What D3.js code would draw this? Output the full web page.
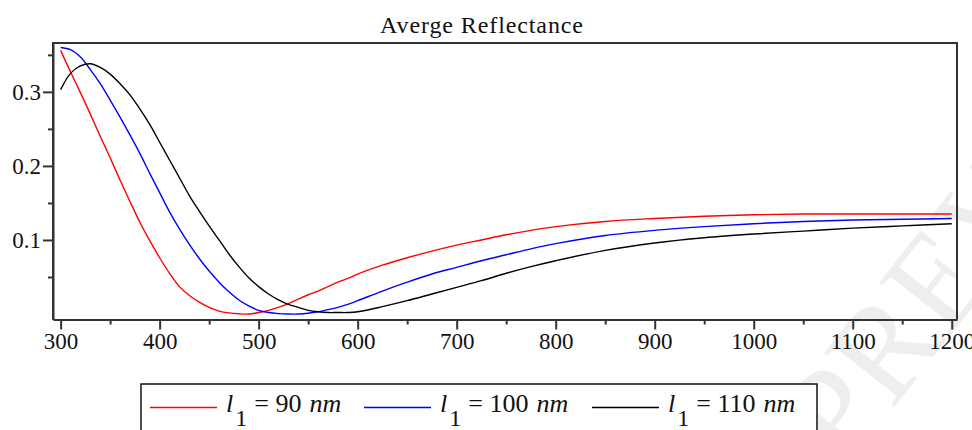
<!DOCTYPE html>
<html>
<head>
<meta charset="utf-8">
<script src="https://cdn.jsdelivr.net/npm/d3@7"></script>
<style>
    body { margin: 0; background: #fff; }
    svg { display: block; }
    text, tspan { font-family: "Liberation Serif", "Times New Roman", serif !important; fill: #111; }
</style>
</head>
<body>
<svg id="plot" width="972" height="430"></svg>
<script>
const wavelengths = [300, 310, 320, 330, 340, 350, 360, 370, 380, 390, 400, 410, 420, 430, 440,
    450, 460, 470, 480, 490, 500, 510, 520, 530, 540, 550, 560, 570, 580, 590, 600, 625, 650,
    675, 700, 725, 750, 775, 800, 850, 900, 950, 1000, 1050, 1100, 1150, 1200];

// Average reflectance for each layer thickness
const refl90 = [0.356, 0.327, 0.299, 0.270, 0.240, 0.211, 0.181, 0.152, 0.124, 0.099, 0.076,
    0.055, 0.037, 0.025, 0.016, 0.009, 0.004, 0.0015, 0.0003, 0.000, 0.002, 0.005, 0.009, 0.014,
    0.020, 0.026, 0.031, 0.037, 0.043, 0.048, 0.054, 0.066, 0.076, 0.085, 0.093, 0.100, 0.107,
    0.113, 0.118, 0.125, 0.129, 0.132, 0.134, 0.135, 0.135, 0.135, 0.135];
const refl100 = [0.360, 0.357, 0.347, 0.330, 0.311, 0.289, 0.266, 0.242, 0.217, 0.190, 0.164,
    0.138, 0.115, 0.094, 0.075, 0.058, 0.043, 0.030, 0.019, 0.011, 0.005, 0.002, 0.0005, 0.000,
    0.000, 0.001, 0.003, 0.006, 0.009, 0.013, 0.018, 0.031, 0.043, 0.054, 0.063, 0.072, 0.080,
    0.088, 0.095, 0.106, 0.113, 0.118, 0.122, 0.125, 0.127, 0.128, 0.129];
const refl110 = [0.303, 0.325, 0.335, 0.338, 0.333, 0.324, 0.311, 0.296, 0.277, 0.256, 0.232,
    0.208, 0.184, 0.160, 0.139, 0.119, 0.100, 0.081, 0.064, 0.049, 0.037, 0.027, 0.019, 0.013,
    0.009, 0.005, 0.003, 0.002, 0.002, 0.002, 0.003, 0.010, 0.018, 0.027, 0.036, 0.045, 0.055,
    0.064, 0.072, 0.086, 0.096, 0.103, 0.108, 0.112, 0.116, 0.119, 0.122];

// Series names, values and colours
const seriesLabels = ["90", "100", "110"];
const seriesValues = [refl90, refl100, refl110];
const seriesColors = ["#ff0000", "#0000ff", "#000000"];

// Tick values
const xTicks = [300, 400, 500, 600, 700, 800, 900, 1000, 1100, 1200];
const xMinorTicks = [350, 450, 550, 650, 750, 850, 950, 1050, 1150];
const yTicks = [0.1, 0.2, 0.3];
const yMinorTicks = [0.05, 0.15, 0.25, 0.35];

const titleText = "Averge Reflectance";

const svg = d3.select("#plot");

// Faint watermark behind everything
svg.append("text")
    .attr("transform", "translate(845,470) rotate(-52)")
    .attr("font-size", 135)
    .style("fill", "#eeeeee")
    .text("PREVIEW");

// Plot box
const box = { left: 53, right: 957, top: 43, bottom: 319.5 };

const x = d3.scaleLinear().domain([292.3, 1205.3]).range([box.left, box.right]);
const y = d3.scaleLinear().domain([-0.0074, 0.366]).range([box.bottom, box.top]);

// Title
svg.append("text")
    .attr("x", 482)
    .attr("y", 33)
    .attr("text-anchor", "middle")
    .attr("font-size", 24)
    .attr("letter-spacing", 0.9)
    .text(titleText);

// Curves
const line = d3.line()
    .x((d) => x(d[0]))
    .y((d) => y(d[1]))
    .curve(d3.curveCatmullRom.alpha(0.5));

seriesValues.forEach(function (vals, i) {
    svg.append("path")
        .datum(wavelengths.map((w, j) => [w, vals[j]]))
        .attr("fill", "none")
        .attr("stroke", seriesColors[i])
        .attr("stroke-width", 1.4)
        .attr("d", line);
});

// Frame (left, top and right edges)
svg.append("path")
    .attr("d", `M${box.left},${box.bottom}V${box.top}H${box.right}V${box.bottom}`)
    .attr("fill", "none")
    .attr("stroke", "#333")
    .attr("stroke-width", 2);

// Bottom axis with major and minor ticks
const xAxis = svg.append("g")
    .attr("transform", "translate(0," + box.bottom + ")")
    .call(d3.axisBottom(x).tickValues(xTicks).tickSize(10).tickSizeOuter(0).tickPadding(3)
        .tickFormat(d3.format("d")));
xAxis.select(".domain").attr("stroke", "#333").attr("stroke-width", 2);
xAxis.selectAll(".tick line").attr("stroke", "#333").attr("stroke-width", 2);
xAxis.selectAll("text").attr("font-size", 23).style("fill", "#111");

svg.append("g")
    .attr("transform", "translate(0," + box.bottom + ")")
    .call(d3.axisBottom(x).tickValues(xMinorTicks).tickSize(5).tickFormat(""))
    .call((g) => g.select(".domain").remove())
    .selectAll("line").attr("stroke", "#333").attr("stroke-width", 2);

// Left axis with major and minor ticks
const yAxis = svg.append("g")
    .attr("transform", "translate(" + box.left + ",0)")
    .call(d3.axisLeft(y).tickValues(yTicks).tickSize(10).tickSizeOuter(0).tickPadding(2)
        .tickFormat(d3.format(".1f")));
yAxis.select(".domain").attr("stroke", "#333").attr("stroke-width", 2);
yAxis.selectAll(".tick line").attr("stroke", "#333").attr("stroke-width", 2);
yAxis.selectAll("text").attr("font-size", 23).style("fill", "#111");

svg.append("g")
    .attr("transform", "translate(" + box.left + ",0)")
    .call(d3.axisLeft(y).tickValues(yMinorTicks).tickSize(5).tickFormat(""))
    .call((g) => g.select(".domain").remove())
    .selectAll("line").attr("stroke", "#333").attr("stroke-width", 2);

// Legend box
svg.append("rect")
    .attr("x", 141)
    .attr("y", 384)
    .attr("width", 676)
    .attr("height", 60)
    .attr("fill", "#fff")
    .attr("stroke", "#111")
    .attr("stroke-width", 1.5);

const legendX = [150, 364, 592];
seriesLabels.forEach(function (lab, i) {
    const g = svg.append("g").attr("transform", "translate(" + legendX[i] + ",0)");
    g.append("line")
        .attr("x1", 0).attr("x2", 67)
        .attr("y1", 407.5).attr("y2", 407.5)
        .attr("stroke", seriesColors[i])
        .attr("stroke-width", 1.6);
    const t = g.append("text")
        .attr("x", 76)
        .attr("y", 412)
        .attr("font-size", 26);
    t.append("tspan").attr("font-style", "italic").text("l");
    t.append("tspan").attr("dx", 2).attr("dy", 14).attr("font-size", 24).text("1");
    t.append("tspan").attr("dx", 7).attr("dy", -14).text("= " + lab);
    t.append("tspan").attr("dx", 8).attr("font-style", "italic").text("nm");
});
</script>
</body>
</html>
